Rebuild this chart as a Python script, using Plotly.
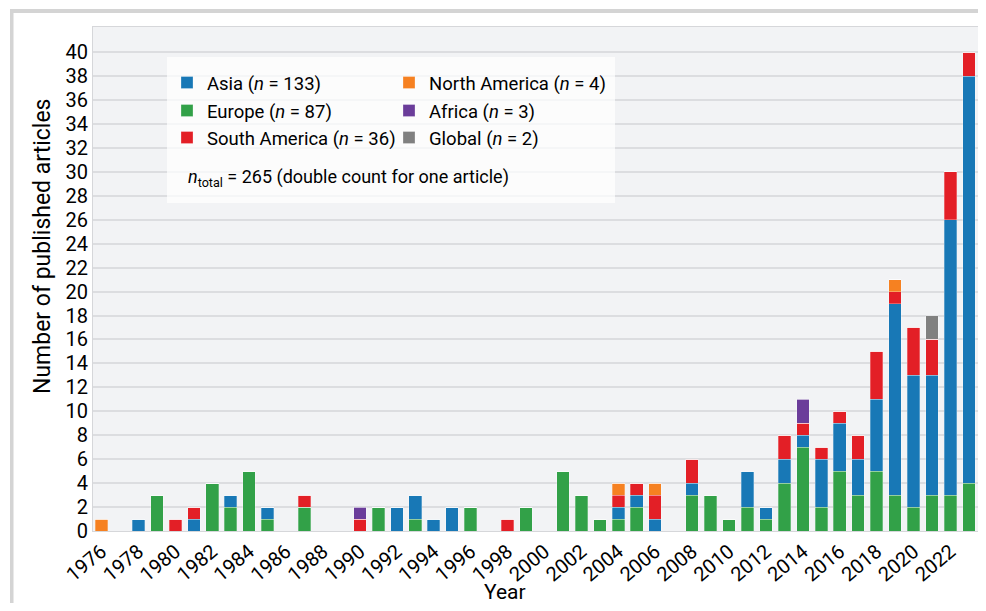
import plotly.graph_objects as go

years = list(range(1976, 2024))

europe = [0, 0, 0, 3, 0, 0, 4, 2, 5, 1,
          0, 2, 0, 0, 0, 2, 0, 1, 0, 0,
          2, 0, 0, 2, 0, 5, 3, 1, 1, 2,
          0, 0, 3, 3, 1, 2, 1, 4, 7, 2,
          5, 3, 5, 3, 2, 3, 3, 4]
asia = [0, 0, 1, 0, 0, 1, 0, 1, 0, 1,
        0, 0, 0, 0, 0, 0, 2, 2, 1, 2,
        0, 0, 0, 0, 0, 0, 0, 0, 1, 1,
        1, 0, 1, 0, 0, 3, 1, 2, 1, 4,
        4, 3, 6, 16, 11, 10, 23, 34]
south_america = [0, 0, 0, 0, 1, 1, 0, 0, 0, 0,
                 0, 1, 0, 0, 1, 0, 0, 0, 0, 0,
                 0, 0, 1, 0, 0, 0, 0, 0, 1, 1,
                 2, 0, 2, 0, 0, 0, 0, 2, 1, 1,
                 1, 2, 4, 1, 4, 3, 4, 2]
north_america = [1, 0, 0, 0, 0, 0, 0, 0, 0, 0,
                 0, 0, 0, 0, 0, 0, 0, 0, 0, 0,
                 0, 0, 0, 0, 0, 0, 0, 0, 1, 0,
                 1, 0, 0, 0, 0, 0, 0, 0, 0, 0,
                 0, 0, 0, 1, 0, 0, 0, 0]
africa = [0, 0, 0, 0, 0, 0, 0, 0, 0, 0,
          0, 0, 0, 0, 1, 0, 0, 0, 0, 0,
          0, 0, 0, 0, 0, 0, 0, 0, 0, 0,
          0, 0, 0, 0, 0, 0, 0, 0, 2, 0,
          0, 0, 0, 0, 0, 0, 0, 0]
global_ = [0, 0, 0, 0, 0, 0, 0, 0, 0, 0,
           0, 0, 0, 0, 0, 0, 0, 0, 0, 0,
           0, 0, 0, 0, 0, 0, 0, 0, 0, 0,
           0, 0, 0, 0, 0, 0, 0, 0, 0, 0,
           0, 0, 0, 0, 0, 2, 0, 0]

x_ticks = list(range(1976, 2023, 2))
y_ticks = list(range(0, 41, 2))

FONT = "Roboto, sans-serif"
OFF = 8                      # page body margin in the browser
W, H = 970, 595
ML, MR, MT, MB = 85, 0, 19, 72
PW, PH = W - ML - MR, H - MT - MB


def px_x(p):
    """screen pixel -> paper x"""
    return (p - OFF - ML) / PW


def px_y(p):
    """screen pixel -> paper y"""
    return (H - MB - (p - OFF)) / PH


# name, values, colour, legend id, legend text-left px, legend row centre px
series = [
    ("Europe (<i>n</i> = 87)", europe, "#32a148", "legend2", 208, 111),
    ("Asia (<i>n</i> = 133)", asia, "#1878b6", "legend", 208, 83),
    ("South America (<i>n</i> = 36)", south_america, "#e31f26", "legend3", 208, 138),
    ("North America (<i>n</i> = 4)", north_america, "#f68121", "legend4", 430, 83),
    ("Africa (<i>n</i> = 3)", africa, "#6b3d9a", "legend5", 430, 111),
    ("Global (<i>n</i> = 2)", global_, "#808080", "legend6", 430, 138),
]

fig = go.Figure()
legends = {}
for name, vals, color, leg, lx, ly in series:
    fig.add_trace(go.Bar(
        x=years, y=vals, name=name, marker_color=color,
        marker_line=dict(color="rgba(255,255,255,0.35)", width=0.8),
        width=0.68, legend=leg, showlegend=True,
    ))
    legends[leg] = dict(x=px_x(lx - 41), y=px_y(ly), xanchor="left", yanchor="middle",
                        bgcolor="rgba(0,0,0,0)", font=dict(size=18.5),
                        borderwidth=0, visible=True)

fig.update_layout(
    width=W, height=H,
    showlegend=True,
    margin=dict(l=ML, r=MR, t=MT, b=MB, pad=0),
    barmode="stack",
    paper_bgcolor="white",
    plot_bgcolor="#f2f3f5",
    font=dict(family=FONT, size=20, color="black"),
    xaxis=dict(range=[1975.54, 2023.49], tickvals=x_ticks, tickangle=-40,
               showgrid=False, showline=True, linecolor="#d6d7da", linewidth=1,
               mirror=True, ticks="", tickfont=dict(size=20), automargin=False),
    yaxis=dict(range=[0, 42.1], tickvals=y_ticks, showgrid=True,
               gridcolor="#dcdde0", gridwidth=1.5, zeroline=False,
               showline=True, linecolor="#d6d7da", linewidth=1, mirror=True,
               ticks="", tickfont=dict(size=20), automargin=False),
    shapes=[
        dict(type="rect", xref="paper", yref="paper",
             x0=px_x(167), x1=px_x(615), y0=px_y(203), y1=px_y(57),
             fillcolor="rgba(255,255,255,0.72)", line=dict(width=0), layer="above"),
        dict(type="rect", xref="paper", yref="paper",
             x0=px_x(10), x1=px_x(986), y0=px_y(13), y1=px_y(9),
             fillcolor="#d4d4d4", line=dict(width=0), layer="below"),
        dict(type="rect", xref="paper", yref="paper",
             x0=px_x(10), x1=px_x(13.5), y0=px_y(611), y1=px_y(9),
             fillcolor="#d4d4d4", line=dict(width=0), layer="below"),
    ],
    annotations=[
        dict(text="<i>n</i><sub>total</sub> = 265 (double count for one article)",
             xref="paper", yref="paper", x=px_x(186), y=px_y(178),
             xanchor="left", yanchor="middle", showarrow=False,
             font=dict(size=18)),
        dict(text="Number of published articles", textangle=-90,
             xref="paper", yref="paper", x=px_x(42), y=px_y(247),
             xanchor="center", yanchor="middle", showarrow=False,
             font=dict(size=23)),
        dict(text="Year", xref="paper", yref="paper", x=px_x(505), y=px_y(592),
             xanchor="center", yanchor="middle", showarrow=False,
             font=dict(size=21)),
    ],
)
fig.update_layout(**legends)

fig.write_html("out.html")
